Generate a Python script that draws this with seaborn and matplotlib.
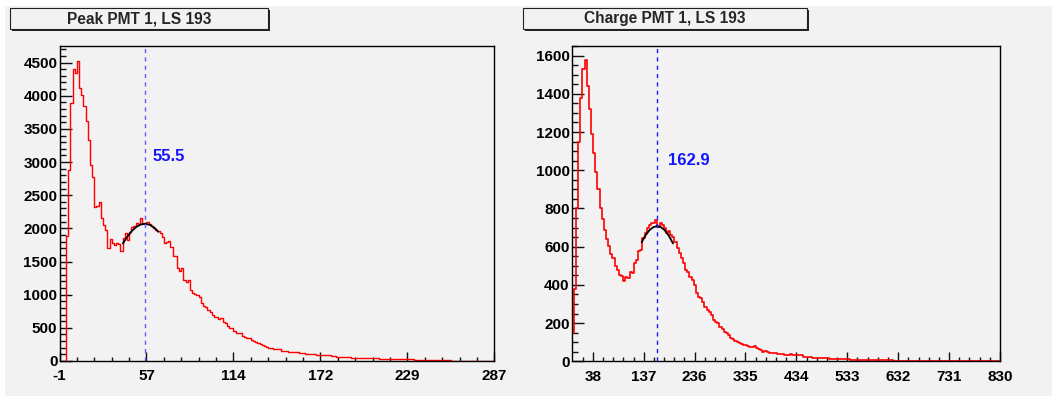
import numpy as np
import matplotlib
matplotlib.use("Agg")
import matplotlib.pyplot as plt
from matplotlib.patches import Rectangle
from matplotlib.ticker import MultipleLocator, FixedLocator
import seaborn as sns

# --- Peak PMT 1 histogram (bin width 1.44, first edge at -1) ---
peak_counts = [
    0, 0, 0,
    1890, 2880, 3890, 4410, 4340, 4530, 4110, 4010, 3840, 3620,
    3330, 2960, 2780, 2320, 2340, 2400, 2150, 2050, 1980, 1700,
    1835, 1775, 1750, 1775, 1765, 1660,
    1850, 1925, 1820, 1950, 2020, 2030, 2075, 2060, 2160, 2075,
    2070, 2090, 2060, 2030, 2000, 1975, 1960, 1930, 1875, 1775,
    1800, 1815, 1724, 1590, 1584, 1400, 1350, 1400, 1225, 1195,
    1220, 1070, 1020, 1010, 990, 970, 870, 830, 815, 770,
    745, 694, 670, 660, 628, 645, 593, 568, 528, 493,
    503, 452, 428, 420, 415, 377, 367, 345, 340,
    315, 305, 280, 270, 250, 235, 228, 210, 200, 190,
    181, 180, 178, 175, 156, 155,
    145, 142, 140, 138, 135, 130,
    118, 116, 115, 112, 110, 108,
    102, 100, 98, 96, 94,
    90, 88, 86, 84, 80,
    70, 66, 64, 62, 60,
    56, 55, 54, 52, 50,
    50, 48, 46, 44,
    42, 41, 40, 40, 39, 38, 38, 37, 36, 36,
    35, 34, 33, 32, 30, 30,
    28, 27, 26, 25, 25, 24, 23, 22, 21, 20, 19, 18,
    16, 15, 15, 14, 13, 12, 12, 11, 10, 10, 9, 8,
    7, 7, 6, 6, 6, 5, 5, 5, 4, 4, 4, 4, 3, 3, 3, 3, 2, 2, 2, 2,
]
peak_fit_x = [41, 44, 47, 50, 53, 56, 59, 62, 64.5]
peak_fit_y = [1773, 1877, 1963, 2024, 2060, 2070, 2051, 2006, 1948]
peak_mean = 55.5
peak_xticklabels = ["-1", "57", "114", "172", "229", "287"]

# --- Charge PMT 1 histogram (bin width 4.165, first edge at -3) ---
charge_counts = [
    150, 380, 800, 1150, 1380, 1530, 1575, 1440, 1320, 1190,
    1090, 990, 900, 800, 745, 685, 640, 605, 560, 540,
    500, 478, 452, 446, 421, 442, 436, 468, 462, 515, 532, 575,
    580, 644, 670, 697, 714, 722, 726, 740, 705, 722,
    714, 697, 670, 680, 661, 652, 626, 592, 565, 539,
    513, 478, 469, 443, 426, 400, 356, 338, 330, 312,
    286, 269, 260, 242, 216, 207, 199, 181, 167, 155,
    146, 138, 120, 115, 108, 103, 97, 91, 85, 85,
    80, 77, 73, 80, 68, 63, 59, 50, 56, 50,
    45, 44, 42, 42, 40, 38, 37, 35, 34, 33,
    36, 33, 33, 32, 33, 32,
    21, 21, 20, 20, 19, 19,
    18, 17, 16, 16, 15, 15,
    14, 13, 12, 12, 12, 11, 11,
    10, 10, 10, 9, 9, 9, 8, 8, 8,
    7, 7, 7, 7, 6, 6, 6, 6, 5, 5, 5, 5, 5, 5, 4,
    4, 4, 4, 4, 4, 3, 3, 3, 3, 3, 3, 3, 3, 3, 2, 2, 2, 2, 2, 2,
    2, 2, 2, 2, 2, 2, 2, 2, 2, 1, 1, 1, 1, 1, 1, 1, 1, 1, 1, 1,
    1, 1, 1, 1, 1, 1, 1, 1, 1,
]
charge_fit_x = [133, 140, 148, 155, 163, 170, 178, 186, 194]
charge_fit_y = [623, 657, 686, 701, 708, 703, 686, 657, 617]
charge_mean = 162.9
charge_xticklabels = ["38", "137", "236", "335", "434", "533", "632", "731", "830"]

W, H = 1052, 396
BG = "#f2f2f2"

sns.set_style("ticks")
plt.rcParams["font.family"] = ["Liberation Sans", "DejaVu Sans"]
plt.rcParams["font.weight"] = "bold"

fig = plt.figure(figsize=(W / 100, H / 100), dpi=100, facecolor="white")
fig.patches.append(Rectangle((5 / W, 0), 1 - 5 / W, 1 - 6 / H, transform=fig.transFigure,
                             facecolor=BG, edgecolor="none", zorder=-5))


def px_axes(x0, x1, y0, y1):
    return fig.add_axes([x0 / W, 1 - y1 / H, (x1 - x0) / W, (y1 - y0) / H])


def title_box(x0, x1, y0, y1, text):
    # ROOT style pave with a small shadow to the lower right
    fig.patches.append(Rectangle(((x0 + 2) / W, 1 - (y1 + 2) / H), (x1 - x0) / W, (y1 - y0) / H,
                                 transform=fig.transFigure, facecolor="#222222", edgecolor="none", zorder=1))
    fig.patches.append(Rectangle((x0 / W, 1 - y1 / H), (x1 - x0) / W, (y1 - y0) / H,
                                 transform=fig.transFigure, facecolor=BG, edgecolor="#222222",
                                 linewidth=0.8, zorder=2))
    fig.text((x0 + x1) / 2 / W, 1 - (y0 + y1) / 2 / H, text, ha="center", va="center",
             fontsize=11.2, fontweight="bold", zorder=3)


def draw_panel(ax, counts, x0, width, fit_x, fit_y, mean, dash_color, ylim, xlim,
               xticks, xticklabels, xminor_ticks, ymajor, yminor, text_y, text_dx, lw):
    edges = x0 + width * np.arange(len(counts) + 1)
    centers = (edges[:-1] + edges[1:]) / 2
    sns.histplot(x=centers, weights=counts, bins=list(edges), element="step", fill=False,
                 color="red", linewidth=lw, ax=ax)
    sns.lineplot(x=fit_x, y=fit_y, color="black", linewidth=1.3, sort=False, ax=ax)
    ax.axvline(mean, color=dash_color, linestyle=(0, (3, 3)), linewidth=1.0)
    ax.annotate(f"{mean}", xy=(mean, text_y), xycoords=("data", "axes fraction"),
                xytext=(text_dx, 0), textcoords="offset points", color="#1414ff",
                fontsize=12, fontweight="bold", va="center", ha="left")
    ax.set_facecolor(BG)
    ax.set_xlim(*xlim)
    ax.set_ylim(*ylim)
    ax.set_xlabel("")
    ax.set_ylabel("")
    ax.set_xticks(xticks)
    ax.set_xticklabels(xticklabels)
    ax.xaxis.set_minor_locator(FixedLocator(xminor_ticks))
    ax.yaxis.set_major_locator(MultipleLocator(ymajor))
    ax.yaxis.set_minor_locator(MultipleLocator(yminor))
    ax.tick_params(axis="both", which="both", direction="in", colors="#111111",
                   labelcolor="black", labelsize=11, width=1.0)
    ax.tick_params(axis="y", which="major", length=8.6, pad=1.5)
    ax.tick_params(axis="y", which="minor", length=4.5)
    ax.tick_params(axis="x", which="major", length=6.5, pad=6)
    ax.tick_params(axis="x", which="minor", length=3.2)
    for lab in ax.get_xticklabels() + ax.get_yticklabels():
        lab.set_fontweight("bold")
    for sp in ax.spines.values():
        sp.set_visible(True)
        sp.set_color("black")
        sp.set_linewidth(1.0)


ax1 = px_axes(59.5, 494.3, 46, 361)
draw_panel(ax1, peak_counts, -1, 1.44, peak_fit_x, peak_fit_y, peak_mean, "#5c5cf0",
           (0, 4750), (-1, 287), np.linspace(-1, 287, 6), peak_xticklabels,
           -1 + 11.52 * np.arange(26), 500, 100, 0.648, 5.8, 1.0)

ax2 = px_axes(571.7, 1000, 45.7, 361.3)
draw_panel(ax2, charge_counts, -3, 4.165, charge_fit_x, charge_fit_y, charge_mean, "#1a1aff",
           (0, 1652), (-3, 830), 38 + 99 * np.arange(9), charge_xticklabels,
           38 - 19.8 + 19.8 * np.arange(42), 200, 50, 0.636, 7.8, 1.2)

title_box(10, 268, 8, 29, "Peak PMT 1, LS 193")
title_box(523, 807, 8, 29, "Charge PMT 1, LS 193")

fig.savefig("out.png", dpi=100, facecolor=fig.get_facecolor())
